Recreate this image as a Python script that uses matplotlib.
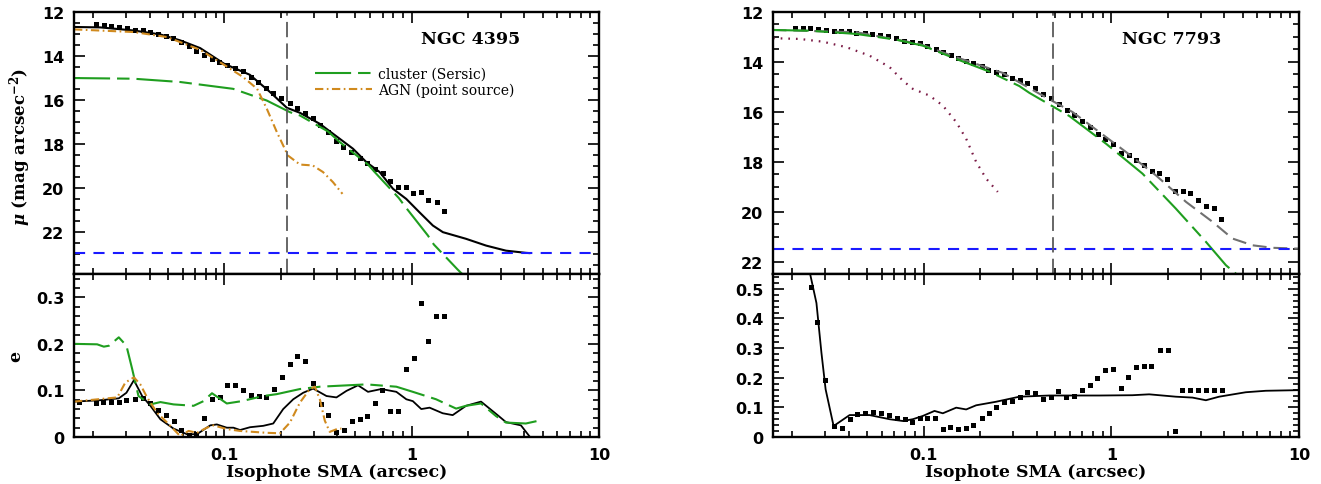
import matplotlib
matplotlib.use('Agg')
import matplotlib.pyplot as plt
from matplotlib import ticker

# ---------------- NGC 4395 ----------------
# surface brightness profile (data points)
n4395_pts_x = [0.0206, 0.0228, 0.0248, 0.0276, 0.0303, 0.0336, 0.0370, 0.0404, 0.0442, 0.0490,
               0.0535, 0.0591, 0.0649, 0.0710, 0.0780, 0.0861, 0.0938, 0.1038, 0.1145, 0.1263,
               0.1387, 0.1517, 0.1673, 0.1829, 0.2009, 0.2244, 0.2444, 0.2686, 0.2962, 0.3266,
               0.360, 0.393, 0.433, 0.478, 0.529, 0.581, 0.641, 0.701, 0.764, 0.843,
               0.930, 1.02, 1.12, 1.23, 1.36, 1.49]
n4395_pts_mu = [12.56, 12.59, 12.64, 12.68, 12.73, 12.80, 12.84, 12.90, 13.00, 13.09,
                13.18, 13.36, 13.56, 13.75, 13.94, 14.12, 14.27, 14.43, 14.55, 14.70,
                14.93, 15.18, 15.45, 15.68, 15.90, 16.12, 16.35, 16.59, 16.80, 17.15,
                17.43, 17.84, 18.11, 18.35, 18.64, 18.88, 19.12, 19.30, 19.67, 19.93,
                19.97, 20.20, 20.17, 20.52, 20.65, 21.02]
# total model
n4395_mod_x = [0.0158, 0.0219, 0.0329, 0.0457, 0.0583, 0.0745, 0.1, 0.137, 0.176, 0.216,
               0.254, 0.324, 0.414, 0.487, 0.574, 0.676, 0.796, 0.937, 1.10, 1.30,
               1.47, 1.95, 2.50, 3.19, 4.08, 4.25]
n4395_mod_mu = [12.68, 12.70, 12.84, 13.02, 13.29, 13.64, 14.35, 14.85, 15.64, 16.35,
                16.58, 17.08, 17.76, 18.21, 18.82, 19.27, 20.03, 20.49, 21.09, 21.70,
                22.00, 22.30, 22.61, 22.84, 22.94, 22.95]
# cluster (Sersic)
n4395_cl_x = [0.0158, 0.0328, 0.0583, 0.1117, 0.1687, 0.2244, 0.2538, 0.3589, 0.4140, 0.5863,
              0.6357, 0.8552, 0.9287, 1.222, 1.315, 1.763, 1.914]
n4395_cl_mu = [15.00, 15.03, 15.18, 15.49, 16.02, 16.55, 16.70, 17.43, 17.91, 18.93,
               19.27, 20.45, 20.86, 22.15, 22.56, 23.70, 24.00]
# AGN (point source)
n4395_agn_x = [0.0158, 0.0329, 0.0497, 0.0745, 0.1, 0.126, 0.150, 0.169, 0.191, 0.219,
               0.254, 0.297, 0.337, 0.381, 0.428]
n4395_agn_mu = [12.79, 12.91, 13.14, 13.72, 14.40, 14.95, 15.49, 16.40, 17.45, 18.52,
                18.93, 18.97, 19.27, 19.73, 20.26]
n4395_sky = 22.95
n4395_vline = 0.217

# ellipticity
n4395_e_x = [0.0169, 0.0206, 0.0226, 0.0250, 0.0276, 0.0301, 0.0336, 0.0368, 0.0404, 0.0445,
             0.0491, 0.0537, 0.0590, 0.0649, 0.0707, 0.0783, 0.0863, 0.0948, 0.1037, 0.1145,
             0.1263, 0.1392, 0.1536, 0.1672, 0.1837, 0.2027, 0.2235, 0.2444, 0.2686, 0.2962,
             0.3268, 0.3604, 0.3944, 0.4350, 0.4797, 0.5290, 0.5783, 0.6355, 0.6983, 0.7637,
             0.8425, 0.9291, 1.025, 1.120, 1.231, 1.358, 1.498]
n4395_e = [0.076, 0.072, 0.075, 0.076, 0.076, 0.079, 0.081, 0.083, 0.072, 0.057,
           0.048, 0.034, 0.015, 0.004, 0.007, 0.040, 0.081, 0.086, 0.111, 0.111,
           0.100, 0.090, 0.088, 0.085, 0.103, 0.128, 0.157, 0.174, 0.164, 0.115,
           0.070, 0.047, 0.011, 0.015, 0.034, 0.039, 0.045, 0.072, 0.100, 0.056,
           0.056, 0.146, 0.170, 0.288, 0.206, 0.260, 0.260]
n4395_emod_x = [0.0158, 0.0219, 0.0274, 0.0301, 0.0330, 0.0365, 0.0404, 0.0457, 0.0537, 0.0633,
                0.0716, 0.0843, 0.0914, 0.1033, 0.1121, 0.1216, 0.1374, 0.1617, 0.1828, 0.2066,
                0.2337, 0.2641, 0.2986, 0.3516, 0.3974, 0.4494, 0.5181, 0.5856, 0.6899, 0.8297,
                0.9380, 1.016, 1.127, 1.248, 1.466, 1.658, 1.954, 2.348, 2.878, 3.190,
                3.835, 4.249]
n4395_emod = [0.076, 0.079, 0.083, 0.095, 0.122, 0.088, 0.067, 0.038, 0.018, 0.006,
              0.006, 0.025, 0.027, 0.020, 0.020, 0.015, 0.021, 0.024, 0.029, 0.060,
              0.081, 0.095, 0.104, 0.088, 0.085, 0.099, 0.111, 0.097, 0.103, 0.097,
              0.081, 0.077, 0.060, 0.063, 0.051, 0.047, 0.067, 0.076, 0.047, 0.032,
              0.025, 0.002]
n4395_ecl_x = [0.0158, 0.0210, 0.0228, 0.0243, 0.0274, 0.0301, 0.0323, 0.0349, 0.0404, 0.0457,
               0.0537, 0.0687, 0.0776, 0.0861, 0.1033, 0.1242, 0.1617, 0.1906, 0.2538, 0.3245,
               0.5742, 0.8297, 1.016, 1.352, 1.729, 1.954, 2.348, 2.822, 3.190, 4.074, 4.642]
n4395_ecl = [0.200, 0.199, 0.194, 0.196, 0.214, 0.196, 0.146, 0.088, 0.070, 0.075,
             0.070, 0.067, 0.077, 0.094, 0.072, 0.077, 0.088, 0.092, 0.103, 0.108,
             0.113, 0.108, 0.097, 0.081, 0.061, 0.067, 0.072, 0.045, 0.031, 0.029, 0.034]
n4395_eagn_x = [0.0158, 0.0269, 0.0297, 0.0330, 0.0357, 0.0388, 0.0439, 0.0496, 0.0583, 0.0646,
                0.0716, 0.0809, 0.0877, 0.1033, 0.1216, 0.1687, 0.1986, 0.2244, 0.2538, 0.2866,
                0.3048, 0.3245, 0.3445, 0.3660, 0.4056, 0.4223]
n4395_eagn = [0.076, 0.085, 0.117, 0.128, 0.113, 0.085, 0.052, 0.031, 0.002, 0.013,
              0.009, 0.020, 0.025, 0.017, 0.013, 0.009, 0.008, 0.031, 0.074, 0.103,
              0.108, 0.080, 0.035, 0.011, 0.018, 0.018]

# ---------------- NGC 7793 ----------------
n7793_pts_x = [0.0208, 0.0228, 0.0248, 0.0274, 0.0301, 0.0332, 0.0365, 0.0401, 0.0439, 0.0485,
               0.0533, 0.0588, 0.0649, 0.0716, 0.0786, 0.0871, 0.0952, 0.1047, 0.1159, 0.1267,
               0.1404, 0.1522, 0.1686, 0.1845, 0.2052, 0.2216, 0.2436, 0.2698, 0.2963, 0.3268,
               0.3573, 0.3941, 0.4312, 0.4778, 0.5245, 0.5809, 0.6353, 0.6982, 0.7703, 0.8455,
               0.9294, 1.025, 1.127, 1.242, 1.353, 1.492, 1.638, 1.799, 1.977, 2.181,
               2.405, 2.630, 2.901, 3.201, 3.529, 3.862]
n7793_pts_mu = [12.64, 12.64, 12.65, 12.68, 12.73, 12.76, 12.77, 12.77, 12.84, 12.84,
                12.87, 12.91, 12.95, 13.05, 13.15, 13.19, 13.25, 13.35, 13.48, 13.59,
                13.72, 13.85, 13.96, 14.04, 14.15, 14.31, 14.41, 14.48, 14.64, 14.71,
                14.84, 15.04, 15.28, 15.45, 15.68, 15.91, 16.12, 16.35, 16.61, 16.88,
                17.08, 17.28, 17.64, 17.75, 17.92, 18.15, 18.39, 18.44, 18.68, 19.16,
                19.16, 19.24, 19.55, 19.79, 19.84, 20.28]
n7793_mod_x = [0.0157, 0.0439, 0.0952, 0.149, 0.264, 0.431, 0.622, 0.863, 1.197, 1.73,
               2.50, 3.46, 4.42, 5.65, 7.21, 9.60, 10.0]
n7793_mod_mu = [12.72, 12.81, 13.28, 13.81, 14.44, 15.35, 16.01, 16.81, 17.61, 18.55,
                19.61, 20.41, 21.08, 21.35, 21.45, 21.48, 21.48]
n7793_cl_x = [0.0157, 0.0248, 0.0439, 0.0716, 0.0992, 0.149, 0.2244, 0.324, 0.366, 0.598,
              0.938, 1.467, 2.207, 3.19, 4.08, 4.80]
n7793_cl_mu = [12.72, 12.75, 12.88, 13.11, 13.35, 13.88, 14.39, 14.97, 15.24, 16.17,
               17.28, 18.48, 19.88, 21.21, 22.15, 22.60]
n7793_dot_x = [0.0158, 0.0219, 0.0291, 0.0388, 0.0516, 0.0660, 0.0776, 0.0877, 0.1076, 0.1267,
               0.1493, 0.1687, 0.1907, 0.2157, 0.2485]
n7793_dot_mu = [13.05, 13.08, 13.19, 13.41, 13.75, 14.21, 14.75, 15.08, 15.35, 15.75,
                16.41, 17.08, 18.01, 18.68, 19.21]
n7793_sky = 21.5
n7793_vline = 0.49

n7793_e_x = [0.0251, 0.0272, 0.0300, 0.0332, 0.0366, 0.0404, 0.0445, 0.0489, 0.0535, 0.0591,
             0.0651, 0.0719, 0.0792, 0.0867, 0.0952, 0.1047, 0.1149, 0.1267, 0.1392, 0.1531,
             0.1680, 0.1845, 0.2036, 0.2226, 0.2445, 0.2698, 0.2963, 0.3268, 0.3573, 0.3941,
             0.4333, 0.4778, 0.5223, 0.5763, 0.6355, 0.6982, 0.7703, 0.8425, 0.9294, 1.025,
             1.130, 1.231, 1.358, 1.492, 1.632, 1.807, 1.993, 2.188, 2.393, 2.640,
             2.912, 3.212, 3.543, 3.879]
n7793_e = [0.505, 0.389, 0.192, 0.037, 0.029, 0.061, 0.079, 0.081, 0.084, 0.080,
           0.073, 0.065, 0.062, 0.051, 0.063, 0.064, 0.064, 0.026, 0.034, 0.026,
           0.030, 0.042, 0.064, 0.080, 0.101, 0.119, 0.121, 0.135, 0.152, 0.147,
           0.127, 0.134, 0.154, 0.136, 0.138, 0.157, 0.175, 0.199, 0.226, 0.231,
           0.165, 0.202, 0.236, 0.239, 0.238, 0.292, 0.292, 0.019, 0.160, 0.160,
           0.160, 0.160, 0.160, 0.160]
n7793_emod_x = [0.0247, 0.0269, 0.0286, 0.0301, 0.0332, 0.0404, 0.0516, 0.0660, 0.0776, 0.0877,
                0.0991, 0.1144, 0.1267, 0.1493, 0.1687, 0.1907, 0.2436, 0.3240, 0.4677, 0.8630,
                1.297, 1.591, 2.207, 2.706, 3.19, 3.75, 5.20, 6.65, 9.80]
n7793_emod = [0.56, 0.452, 0.284, 0.161, 0.037, 0.074, 0.074, 0.060, 0.054, 0.060,
              0.071, 0.088, 0.080, 0.099, 0.093, 0.107, 0.119, 0.136, 0.140, 0.140,
              0.141, 0.144, 0.136, 0.133, 0.124, 0.136, 0.151, 0.156, 0.158]

GREEN = '#1f9e1f'
ORANGE = '#d08a1e'
MAROON = '#7a1a45'
BLUE = '#1a1aff'
GREY = '#5a5a5a'

plt.rcParams['lines.scale_dashes'] = False
plt.rcParams['font.family'] = 'DejaVu Sans'
plt.rcParams['font.weight'] = 'bold'
plt.rcParams['mathtext.fontset'] = 'custom'
plt.rcParams['mathtext.it'] = 'DejaVu Serif:italic:bold'
plt.rcParams['mathtext.rm'] = 'DejaVu Serif:bold'

XMIN, XMAX = 0.0158, 10.0
SERIF = dict(family='DejaVu Serif', weight='bold')

fig = plt.figure(figsize=(13.21, 4.85), dpi=100)
ax1 = fig.add_axes([0.0560, 0.4330, 0.3974, 0.5402])
ax2 = fig.add_axes([0.0560, 0.0969, 0.3974, 0.3361])
ax3 = fig.add_axes([0.5852, 0.4330, 0.3982, 0.5402])
ax4 = fig.add_axes([0.5852, 0.0969, 0.3982, 0.3361])


def style(ax, ylim, major, minor, xlabels):
    ax.set_xscale('log')
    ax.set_xlim(XMIN, XMAX)
    ax.set_ylim(*ylim)
    ax.xaxis.set_major_locator(ticker.LogLocator(base=10))
    ax.xaxis.set_minor_locator(ticker.LogLocator(base=10, subs=range(2, 10)))
    ax.xaxis.set_major_formatter(ticker.FuncFormatter(lambda v, p: f'{v:g}'))
    ax.xaxis.set_minor_formatter(ticker.NullFormatter())
    ax.yaxis.set_major_locator(ticker.MultipleLocator(major))
    ax.yaxis.set_minor_locator(ticker.MultipleLocator(minor))
    ax.yaxis.set_major_formatter(ticker.FuncFormatter(lambda v, p: f'{v:g}'))
    ax.tick_params(which='both', direction='in', top=True, right=True, width=1.2,
                   labelsize=11.5, pad=7, labelbottom=xlabels)
    ax.tick_params(which='major', length=8)
    ax.tick_params(which='minor', length=4)
    for s in ax.spines.values():
        s.set_linewidth(1.7)
    if xlabels:
        ax.set_xlabel('Isophote SMA (arcsec)', fontsize=12.5, **SERIF)
        ax.xaxis.set_label_coords(0.5, -0.16)


# NGC 4395 profile
ax1.plot(n4395_pts_x, n4395_pts_mu, 's', color='k', ms=3.6, mew=0)
ax1.plot(n4395_mod_x, n4395_mod_mu, '-', color='k', lw=1.5)
l_cl, = ax1.plot(n4395_cl_x, n4395_cl_mu, color=GREEN, lw=1.5, dashes=(26, 5, 9, 5),
                 label='cluster (Sersic)')
l_agn, = ax1.plot(n4395_agn_x, n4395_agn_mu, color=ORANGE, lw=1.5, dashes=(6, 2.5, 1.2, 2.5),
                  label='AGN (point source)')
ax1.axhline(n4395_sky, color=BLUE, lw=1.5, dashes=(8, 6))
ax1.axvline(n4395_vline, color=GREY, lw=1.3, dashes=(11, 4.5))
style(ax1, (23.9, 12), 2, 0.5, False)
ax1.set_ylabel(r'$\mu$ (mag arcsec$^{-2}$)', fontsize=12, **SERIF)
ax1.yaxis.set_label_coords(-0.078, 0.49)
ax1.text(0.756, 0.897, 'NGC 4395', transform=ax1.transAxes, ha='center', va='center',
         fontsize=12.5, **SERIF)
ax1.legend(handles=[l_cl, l_agn], loc='upper left', bbox_to_anchor=(0.46, 0.79),
           frameon=False, handlelength=4.1, handletextpad=0.4, labelspacing=0.1,
           borderpad=0, borderaxespad=0,
           prop={'family': 'DejaVu Serif', 'size': 10, 'weight': 'normal'})

# NGC 4395 ellipticity
ax2.plot(n4395_e_x, n4395_e, 's', color='k', ms=3.6, mew=0)
ax2.plot(n4395_emod_x, n4395_emod, '-', color='k', lw=1.3)
ax2.plot(n4395_ecl_x, n4395_ecl, color=GREEN, lw=1.5, dashes=(26, 5, 9, 5))
ax2.plot(n4395_eagn_x, n4395_eagn, color=ORANGE, lw=1.5, dashes=(6, 2.5, 1.2, 2.5))
style(ax2, (0, 0.35), 0.1, 0.02, True)
ax2.set_ylabel('e', fontsize=12.5, **SERIF)
ax2.yaxis.set_label_coords(-0.094, 0.5)

# NGC 7793 profile
ax3.plot(n7793_pts_x, n7793_pts_mu, 's', color='k', ms=3.6, mew=0)
ax3.plot(n7793_mod_x, n7793_mod_mu, color='#707070', lw=1.5, dashes=(10, 5))
ax3.plot(n7793_cl_x, n7793_cl_mu, color=GREEN, lw=1.5, dashes=(26, 5, 9, 5))
ax3.plot(n7793_dot_x, n7793_dot_mu, color=MAROON, lw=1.6, dashes=(1.2, 4.3))
ax3.axhline(n7793_sky, color=BLUE, lw=1.5, dashes=(8, 6))
ax3.axvline(n7793_vline, color=GREY, lw=1.3, dashes=(11, 4.5))
style(ax3, (22.5, 12), 2, 0.5, False)
ax3.text(0.757, 0.897, 'NGC 7793', transform=ax3.transAxes, ha='center', va='center',
         fontsize=12.5, **SERIF)

# NGC 7793 ellipticity
ax4.plot(n7793_e_x, n7793_e, 's', color='k', ms=3.6, mew=0)
ax4.plot(n7793_emod_x, n7793_emod, '-', color='k', lw=1.3)
style(ax4, (0, 0.55), 0.1, 0.02, True)

fig.savefig('out.png', dpi=100)
